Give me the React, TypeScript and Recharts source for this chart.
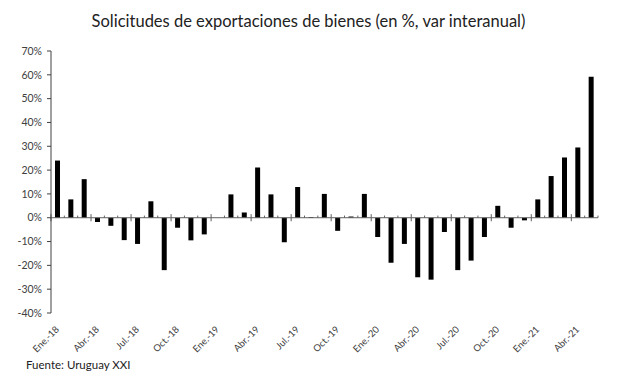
import React from 'react';
import { BarChart, Bar, XAxis, YAxis, ReferenceLine } from 'recharts';

const months = [
  'Ene.-18', 'Feb.-18', 'Mar.-18', 'Abr.-18', 'May.-18', 'Jun.-18', 'Jul.-18', 'Ago.-18', 'Set.-18', 'Oct.-18', 'Nov.-18', 'Dic.-18',
  'Ene.-19', 'Feb.-19', 'Mar.-19', 'Abr.-19', 'May.-19', 'Jun.-19', 'Jul.-19', 'Ago.-19', 'Set.-19', 'Oct.-19', 'Nov.-19', 'Dic.-19',
  'Ene.-20', 'Feb.-20', 'Mar.-20', 'Abr.-20', 'May.-20', 'Jun.-20', 'Jul.-20', 'Ago.-20', 'Set.-20', 'Oct.-20', 'Nov.-20', 'Dic.-20',
  'Ene.-21', 'Feb.-21', 'Mar.-21', 'Abr.-21', 'May.-21',
];

const values = [
  24, 7.7, 16.2, -1.8, -3.4, -9.4, -11, 6.9, -22, -4.2, -9.5, -7,
  0, 9.8, 2.2, 21.1, 9.8, -10.3, 12.9, 0.3, 10, -5.5, 0.5, 10,
  -8.1, -18.9, -11, -25, -26, -6, -22, -18, -8.1, 5, -4.2, -1.1,
  7.7, 17.5, 25.3, 29.5, 59.2,
];

const tickLabels = [
  'Ene.-18', 'Abr.-18', 'Jul.-18', 'Oct.-18', 'Ene.-19', 'Abr.-19', 'Jul.-19',
  'Oct.-19', 'Ene.-20', 'Abr.-20', 'Jul.-20', 'Oct.-20', 'Ene.-21', 'Abr.-21',
];

const yTicks = [-40, -30, -20, -10, 0, 10, 20, 30, 40, 50, 60, 70];

const data = months.map((m, i) => ({ idx: i, month: m, value: values[i] }));
const labelIdx = tickLabels.map((l) => months.indexOf(l));
const boundaries = months.map((_, i) => i - 0.5).concat([months.length - 0.5]);
const majorSet = new Set(labelIdx.map((i) => i - 0.5));

const FONT = 'Lato, "Open Sans", sans-serif';

const XTick = (props: any) => {
  const { x, y, payload } = props;
  const label = months[payload.value];
  const tx = x + 2;
  const ty = y + 9;
  return (
    <text x={tx} y={ty} transform={`rotate(-45, ${tx}, ${ty})`} textAnchor="end" fontSize={9.5} fill="#404040" fontFamily={FONT}>
      {label}
    </text>
  );
};

export default function App() {
  return (
    <div style={{ position: 'absolute', left: 0, top: 0, width: 617, height: 376, background: '#fff' }}>
      <div style={{ position: 'absolute', left: 0, width: 617, top: 11, textAlign: 'center', fontFamily: FONT, fontSize: 16.5, color: '#222' }}>
        Solicitudes de exportaciones de bienes (en %, var interanual)
      </div>
      <BarChart width={617} height={376} data={data} margin={{ top: 51, right: 19, left: 0, bottom: 23 }}>
        <YAxis
          type="number"
          domain={[-40, 70]}
          ticks={yTicks}
          interval={0}
          width={51}
          tickFormatter={(v: number) => `${v}%`}
          tick={{ fontSize: 10.5, fill: '#404040', fontFamily: FONT }}
          axisLine={{ stroke: '#404040' }}
          tickLine={{ stroke: '#404040' }}
          tickSize={4}
          tickMargin={5}
        />
        <XAxis
          type="number"
          dataKey="idx"
          domain={[-0.5, months.length - 0.5]}
          ticks={labelIdx}
          interval={0}
          height={40}
          axisLine={false}
          tickLine={false}
          tick={<XTick />}
        />
        <ReferenceLine y={0} stroke="#606060" strokeWidth={1} />
        {boundaries.map((b) => (
          <ReferenceLine
            key={b}
            segment={majorSet.has(b) ? [{ x: b, y: -1.5 }, { x: b, y: 1.5 }] : [{ x: b, y: 0 }, { x: b, y: 0.9 }]}
            stroke="#606060"
            strokeWidth={1}
          />
        ))}
        <Bar dataKey="value" fill="#000" barSize={5} isAnimationActive={false} />
      </BarChart>
      <div style={{ position: 'absolute', left: 26, top: 358, fontFamily: FONT, fontSize: 11.5, color: '#222' }}>
        Fuente: Uruguay XXI
      </div>
    </div>
  );
}
